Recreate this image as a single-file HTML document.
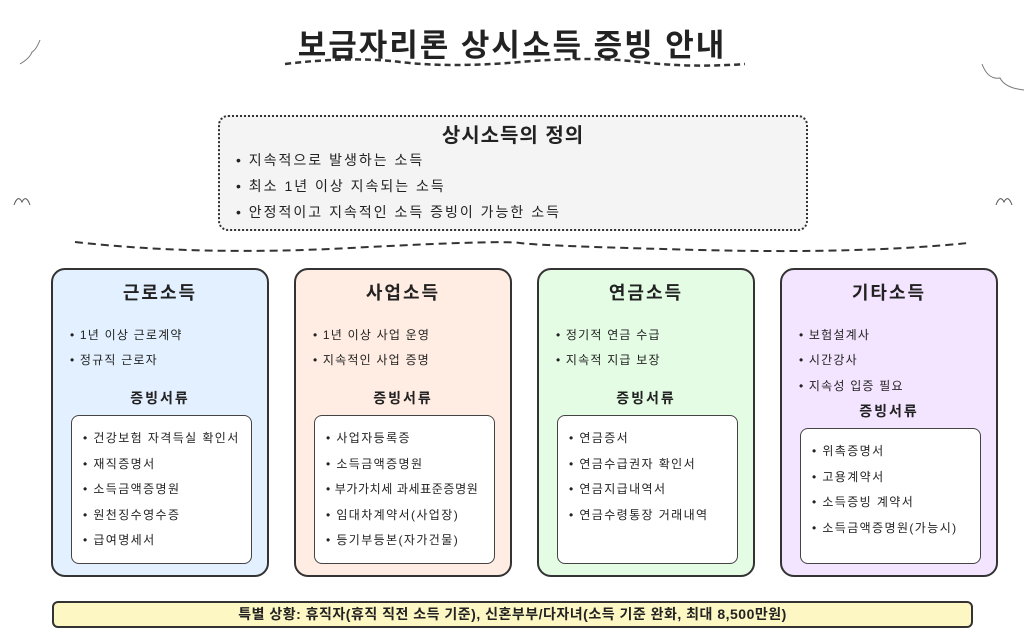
<!DOCTYPE html>
<html><head><meta charset="utf-8"><style>
*{margin:0;padding:0;box-sizing:border-box}
body{width:1024px;height:640px;background:#fff;position:relative;overflow:hidden;font-family:"Liberation Sans","Noto Sans CJK KR",sans-serif;color:#222}
.a{position:absolute;white-space:nowrap}
.card{position:absolute;top:268px;width:218px;height:309px;border:2px solid #333;border-radius:14px}
.inner{position:absolute;left:18px;width:181px;background:#fff;border:1.5px solid #444;border-radius:8px}
.ct{position:absolute;left:0;width:100%;text-align:center;font-weight:bold;font-size:18px;top:9px;letter-spacing:2px}
.st{position:absolute;left:0;width:100%;text-align:center;font-weight:bold;font-size:14px;letter-spacing:2px}
.b{position:absolute;font-size:12px;white-space:nowrap;letter-spacing:1.2px}
.inner .b{letter-spacing:1.4px}
.d{font-size:14px;letter-spacing:2px}
</style></head><body>
<svg class="a" style="left:0;top:0" width="1024" height="640">
<path d="M285 64 Q350 56 400 62 T520 62 T640 62 T745 64" stroke="#333" stroke-width="2.5" fill="none" stroke-dasharray="6 4"/>
<path d="M75 242 Q200 256 350 248 T520 243 T700 250 T968 243" stroke="#333" stroke-width="2" fill="none" stroke-dasharray="8 5"/>
<path d="M20 64 Q30 58 32 52 Q36 50 40 40" stroke="#777" fill="none"/>
<path d="M982 64 Q988 80 1000 78 Q1005 88 1024 90" stroke="#777" fill="none"/>
<path d="M14 205 Q18 194 22 202 Q26 194 30 205" stroke="#555" fill="none"/>
<path d="M996 205 Q1000 194 1004 202 Q1008 194 1012 205" stroke="#555" fill="none"/>
<path d="M77 308 Q160 318 243 308" stroke="#333" stroke-width="1.5" fill="none"/>
<path d="M320 308 Q403 318 486 308" stroke="#333" stroke-width="1.5" fill="none"/>
<path d="M563 308 Q646 318 729 308" stroke="#333" stroke-width="1.5" fill="none"/>
<path d="M806 308 Q889 318 972 308" stroke="#333" stroke-width="1.5" fill="none"/>
</svg>
<div class="a" style="left:0;width:1024px;text-align:center;top:20px;font-size:31px;font-weight:bold;letter-spacing:2px">보금자리론 상시소득 증빙 안내</div>
<div class="a" style="left:218px;top:115px;width:590px;height:116px;background:#f4f4f4;border:2px dotted #333;border-radius:10px"></div>
<div class="a" style="left:218px;width:590px;text-align:center;top:119px;font-size:20px;font-weight:bold;letter-spacing:1px">상시소득의 정의</div>
<div class="a d" style="left:236px;top:150px">• 지속적으로 발생하는 소득</div>
<div class="a d" style="left:236px;top:176px">• 최소 1년 이상 지속되는 소득</div>
<div class="a d" style="left:236px;top:202px">• 안정적이고 지속적인 소득 증빙이 가능한 소득</div>

<div class="card" style="left:51px;background:#e3f0ff">
<div class="ct">근로소득</div>
<div class="b" style="left:17px;top:56px">• 1년 이상 근로계약</div>
<div class="b" style="left:17px;top:81px">• 정규직 근로자</div>
<div class="st" style="top:118px">증빙서류</div>
<div class="inner" style="top:145px;height:149px">
<div class="b" style="left:11px;top:13px">• 건강보험 자격득실 확인서</div>
<div class="b" style="left:11px;top:39px">• 재직증명서</div>
<div class="b" style="left:11px;top:64px">• 소득금액증명원</div>
<div class="b" style="left:11px;top:90px">• 원천징수영수증</div>
<div class="b" style="left:11px;top:115px">• 급여명세서</div>
</div></div>

<div class="card" style="left:294px;background:#ffece2">
<div class="ct">사업소득</div>
<div class="b" style="left:17px;top:56px">• 1년 이상 사업 운영</div>
<div class="b" style="left:17px;top:81px">• 지속적인 사업 증명</div>
<div class="st" style="top:118px">증빙서류</div>
<div class="inner" style="top:145px;height:149px">
<div class="b" style="left:11px;top:13px">• 사업자등록증</div>
<div class="b" style="left:11px;top:39px">• 소득금액증명원</div>
<div class="b" style="left:11px;top:64px;letter-spacing:0.6px">• 부가가치세 과세표준증명원</div>
<div class="b" style="left:11px;top:90px">• 임대차계약서(사업장)</div>
<div class="b" style="left:11px;top:115px">• 등기부등본(자가건물)</div>
</div></div>

<div class="card" style="left:537px;background:#e4fce4">
<div class="ct">연금소득</div>
<div class="b" style="left:17px;top:56px">• 정기적 연금 수급</div>
<div class="b" style="left:17px;top:81px">• 지속적 지급 보장</div>
<div class="st" style="top:118px">증빙서류</div>
<div class="inner" style="top:145px;height:149px">
<div class="b" style="left:11px;top:13px">• 연금증서</div>
<div class="b" style="left:11px;top:39px">• 연금수급권자 확인서</div>
<div class="b" style="left:11px;top:64px">• 연금지급내역서</div>
<div class="b" style="left:11px;top:90px">• 연금수령통장 거래내역</div>
</div></div>

<div class="card" style="left:780px;background:#f3e4ff">
<div class="ct">기타소득</div>
<div class="b" style="left:17px;top:56px">• 보험설계사</div>
<div class="b" style="left:17px;top:81px">• 시간강사</div>
<div class="b" style="left:17px;top:107px">• 지속성 입증 필요</div>
<div class="st" style="top:131px">증빙서류</div>
<div class="inner" style="top:158px;height:136px">
<div class="b" style="left:11px;top:13px">• 위촉증명서</div>
<div class="b" style="left:11px;top:39px">• 고용계약서</div>
<div class="b" style="left:11px;top:64px">• 소득증빙 계약서</div>
<div class="b" style="left:11px;top:90px">• 소득금액증명원(가능시)</div>
</div></div>

<div class="a" style="left:52px;top:601px;width:921px;height:27px;background:#fdf7c3;border:2px solid #333;border-radius:6px;text-align:center;font-size:14px;font-weight:bold;line-height:23px;letter-spacing:0.5px">특별 상황: 휴직자(휴직 직전 소득 기준), 신혼부부/다자녀(소득 기준 완화, 최대 8,500만원)</div>
</body></html>
